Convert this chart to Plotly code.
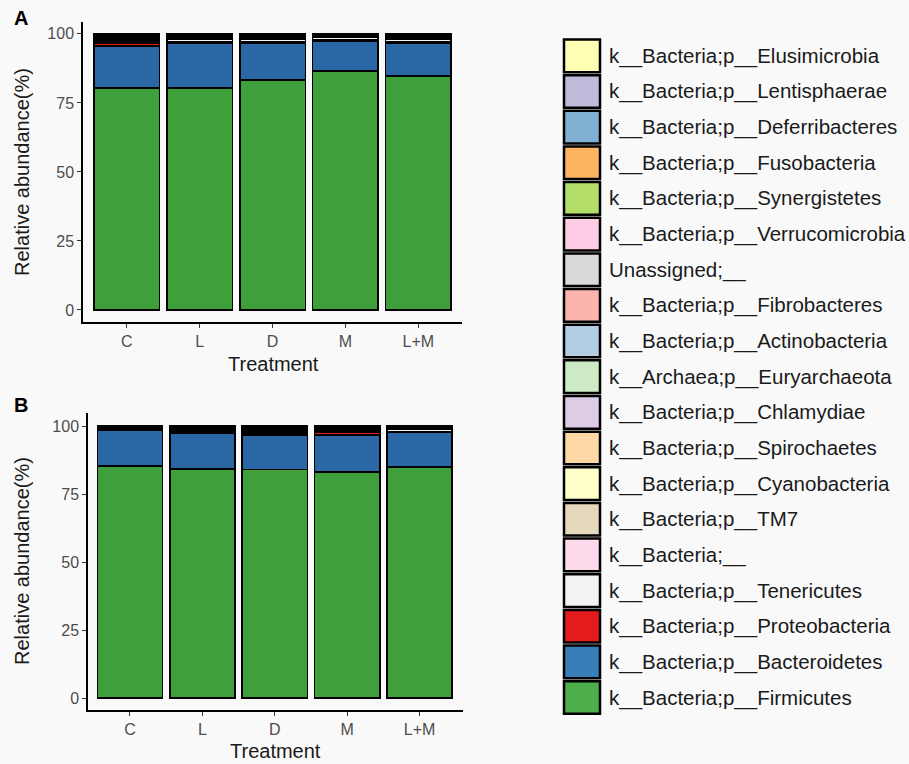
import plotly.graph_objects as go

treatments = ["C", "L", "D", "M", "L+M"]

# legend order (top to bottom)
phyla = [
    "k__Bacteria;p__Elusimicrobia",
    "k__Bacteria;p__Lentisphaerae",
    "k__Bacteria;p__Deferribacteres",
    "k__Bacteria;p__Fusobacteria",
    "k__Bacteria;p__Synergistetes",
    "k__Bacteria;p__Verrucomicrobia",
    "Unassigned;__",
    "k__Bacteria;p__Fibrobacteres",
    "k__Bacteria;p__Actinobacteria",
    "k__Archaea;p__Euryarchaeota",
    "k__Bacteria;p__Chlamydiae",
    "k__Bacteria;p__Spirochaetes",
    "k__Bacteria;p__Cyanobacteria",
    "k__Bacteria;p__TM7",
    "k__Bacteria;__",
    "k__Bacteria;p__Tenericutes",
    "k__Bacteria;p__Proteobacteria",
    "k__Bacteria;p__Bacteroidetes",
    "k__Bacteria;p__Firmicutes",
]
legend_colors = [
    "#FFFFB3", "#BEBADA", "#80B1D3", "#FDB462", "#B3DE69", "#FCCDE5",
    "#D9D9D9", "#FBB4AE", "#B3CDE3", "#CCEBC5", "#DECBE4", "#FED9A6",
    "#FFFFCC", "#E5D8BD", "#FDDAEC", "#F2F2F2", "#E41A1C", "#377EB8", "#4DAF4A",
]
bar_colors = list(legend_colors)
bar_colors[-1] = "#3F9F3B"
bar_colors[-2] = "#2B66A5"

# Panel A values (%), per phylum, order C, L, D, M, L+M
A_firmicutes      = [80.5, 80.5, 83.4, 86.5, 84.8]
A_bacteroidetes   = [15.2, 16.2, 13.3, 11.0, 11.7]
A_proteobacteria  = [0.9, 0.5, 0.3, 0.5, 0.5]
A_tenericutes     = [0.8, 0.9, 0.9, 0.8, 0.9]
A_bacteria_unc    = [0.3, 0.2, 0.2, 0.1, 0.2]
A_tm7             = [0.4, 0.3, 0.3, 0.2, 0.3]
A_cyanobacteria   = [0.3, 0.2, 0.3, 0.15, 0.3]
A_spirochaetes    = [0.3, 0.2, 0.2, 0.15, 0.2]
A_chlamydiae      = [0.2, 0.15, 0.2, 0.1, 0.2]
A_euryarchaeota   = [0.2, 0.15, 0.15, 0.1, 0.15]
A_actinobacteria  = [0.2, 0.15, 0.15, 0.1, 0.15]
A_fibrobacteres   = [0.15, 0.1, 0.1, 0.05, 0.1]
A_unassigned      = [0.15, 0.1, 0.1, 0.05, 0.1]
A_verrucomicrobia = [0.1, 0.1, 0.1, 0.05, 0.1]
A_synergistetes   = [0.1, 0.05, 0.1, 0.05, 0.1]
A_fusobacteria    = [0.05, 0.05, 0.05, 0.03, 0.05]
A_deferribacteres = [0.05, 0.05, 0.05, 0.03, 0.05]
A_lentisphaerae   = [0.05, 0.05, 0.05, 0.02, 0.05]
A_elusimicrobia   = [0.05, 0.05, 0.05, 0.02, 0.05]

# Panel B values (%)
B_firmicutes      = [85.4, 84.3, 84.0, 83.0, 85.0]
B_bacteroidetes   = [13.0, 13.0, 12.6, 13.8, 12.8]
B_proteobacteria  = [0.1, 0.2, 0.5, 0.9, 0.1]
B_tenericutes     = [0.1, 0.1, 0.1, 0.1, 0.9]
B_bacteria_unc    = [0.3, 0.5, 0.6, 0.5, 0.1]
B_tm7             = [0.2, 0.3, 0.35, 0.3, 0.2]
B_cyanobacteria   = [0.15, 0.3, 0.3, 0.2, 0.15]
B_spirochaetes    = [0.15, 0.2, 0.25, 0.2, 0.15]
B_chlamydiae      = [0.1, 0.2, 0.2, 0.15, 0.1]
B_euryarchaeota   = [0.1, 0.15, 0.2, 0.15, 0.1]
B_actinobacteria  = [0.1, 0.15, 0.2, 0.15, 0.1]
B_fibrobacteres   = [0.05, 0.1, 0.15, 0.1, 0.05]
B_unassigned      = [0.05, 0.1, 0.15, 0.1, 0.05]
B_verrucomicrobia = [0.05, 0.1, 0.1, 0.1, 0.05]
B_synergistetes   = [0.05, 0.1, 0.1, 0.05, 0.05]
B_fusobacteria    = [0.03, 0.05, 0.05, 0.05, 0.03]
B_deferribacteres = [0.03, 0.05, 0.05, 0.05, 0.03]
B_lentisphaerae   = [0.02, 0.05, 0.05, 0.05, 0.02]
B_elusimicrobia   = [0.02, 0.05, 0.05, 0.05, 0.02]

yticks = [0, 25, 50, 75, 100]

# stack from bottom (Firmicutes) to top (Elusimicrobia) = reversed legend order
A_stack = [A_firmicutes, A_bacteroidetes, A_proteobacteria, A_tenericutes, A_bacteria_unc,
           A_tm7, A_cyanobacteria, A_spirochaetes, A_chlamydiae, A_euryarchaeota,
           A_actinobacteria, A_fibrobacteres, A_unassigned, A_verrucomicrobia,
           A_synergistetes, A_fusobacteria, A_deferribacteres, A_lentisphaerae, A_elusimicrobia]
B_stack = [B_firmicutes, B_bacteroidetes, B_proteobacteria, B_tenericutes, B_bacteria_unc,
           B_tm7, B_cyanobacteria, B_spirochaetes, B_chlamydiae, B_euryarchaeota,
           B_actinobacteria, B_fibrobacteres, B_unassigned, B_verrucomicrobia,
           B_synergistetes, B_fusobacteria, B_deferribacteres, B_lentisphaerae, B_elusimicrobia]

W, H = 909, 764
fig = go.Figure()

names_bottom_up = phyla[::-1]
colors_bottom_up = bar_colors[::-1]
for stack, xa, ya in [(A_stack, "x", "y"), (B_stack, "x2", "y2")]:
    for vals, name, col in zip(stack, names_bottom_up, colors_bottom_up):
        fig.add_trace(go.Bar(
            x=treatments, y=vals, name=name, xaxis=xa, yaxis=ya,
            marker=dict(color=col, line=dict(color="black", width=1.6)),
            width=0.9, showlegend=False,
        ))

def px_x(p):
    return p / W

def px_y(p):
    return 1 - p / H

axis_common = dict(showline=True, linecolor="black", linewidth=1.5, ticks="outside",
                   ticklen=4, tickwidth=1.2, tickcolor="#333333", showgrid=False,
                   zeroline=False, tickfont=dict(family="Liberation Sans, Arial", size=16, color="#4D4D4D"))

fig.update_layout(
    width=W, height=H, margin=dict(l=0, r=0, t=0, b=0),
    paper_bgcolor="#F9F9F9", plot_bgcolor="#F9F9F9",
    barmode="stack", bargap=0.1,
    xaxis=dict(domain=[px_x(83), px_x(462)], range=[-0.6, 4.6], anchor="y", **axis_common),
    yaxis=dict(domain=[px_y(322), px_y(22)], range=[-4.35, 104.3], tickvals=yticks, anchor="x", **axis_common),
    xaxis2=dict(domain=[px_x(88), px_x(463)], range=[-0.58, 4.6], anchor="y2", **axis_common),
    yaxis2=dict(domain=[px_y(710), px_y(413)], range=[-4.4, 104.8], tickvals=yticks, anchor="x2", **axis_common),
)

font_t = dict(family="Liberation Sans, Arial", size=20, color="#1A1A1A")
ann = []
ann.append(dict(text="Relative abundance(%)", x=px_x(22), y=px_y(172), xref="paper", yref="paper",
                textangle=-90, showarrow=False, font=font_t, xanchor="center", yanchor="middle"))
ann.append(dict(text="Relative abundance(%)", x=px_x(22), y=px_y(561), xref="paper", yref="paper",
                textangle=-90, showarrow=False, font=font_t, xanchor="center", yanchor="middle"))
ann.append(dict(text="Treatment", x=px_x(273), y=px_y(364), xref="paper", yref="paper",
                showarrow=False, font=font_t, xanchor="center", yanchor="middle"))
ann.append(dict(text="Treatment", x=px_x(275), y=px_y(751), xref="paper", yref="paper",
                showarrow=False, font=font_t, xanchor="center", yanchor="middle"))
ann.append(dict(text="<b>A</b>", x=px_x(12), y=px_y(18), xref="paper", yref="paper",
                showarrow=False, font=dict(family="Liberation Sans, Arial", size=20, color="black"),
                xanchor="left", yanchor="middle"))
ann.append(dict(text="<b>B</b>", x=px_x(12), y=px_y(405), xref="paper", yref="paper",
                showarrow=False, font=dict(family="Liberation Sans, Arial", size=20, color="black"),
                xanchor="left", yanchor="middle"))

# custom legend
shapes = []
top0 = 38.0
pitch = 35.65
for i, (name, col) in enumerate(zip(phyla, legend_colors)):
    y0 = top0 + i * pitch
    shapes.append(dict(type="rect", xref="paper", yref="paper",
                       x0=px_x(564), x1=px_x(600), y0=px_y(y0 + 1.5), y1=px_y(y0 + pitch - 1.5),
                       fillcolor=col, line=dict(color="black", width=2.5)))
    ann.append(dict(text=name, x=px_x(607), y=px_y(y0 + pitch / 2), xref="paper", yref="paper",
                    showarrow=False, xanchor="left", yanchor="middle",
                    font=dict(family="Liberation Sans, Arial", size=20.5, color="#1A1A1A")))

fig.update_layout(annotations=ann, shapes=shapes)
fig.write_html("out.html", config={"displayModeBar": False},
               post_script="document.body.style.margin='0';document.body.style.padding='0';document.body.style.overflow='hidden';")
